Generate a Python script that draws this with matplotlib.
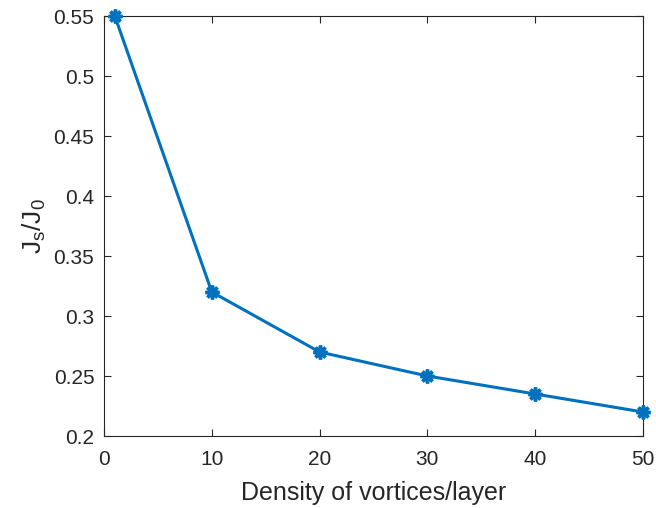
import matplotlib
matplotlib.use("Agg")
import matplotlib.pyplot as plt

# data
density = [1, 10, 20, 30, 40, 50]
js_over_j0 = [0.55, 0.32, 0.27, 0.25, 0.235, 0.22]

xticks = [0, 10, 20, 30, 40, 50]
yticks = [0.2, 0.25, 0.3, 0.35, 0.4, 0.45, 0.5, 0.55]
ytick_labels = ['0.2', '0.25', '0.3', '0.35', '0.4', '0.45', '0.5', '0.55']

plt.rcParams['font.family'] = ['Liberation Sans', 'DejaVu Sans']
plt.rcParams['mathtext.fontset'] = 'custom'
plt.rcParams['mathtext.rm'] = 'Liberation Sans'
plt.rcParams['mathtext.it'] = 'Liberation Sans'
text_color = '#262626'

fig = plt.figure(figsize=(6.56, 5.08), dpi=100)
ax = fig.add_axes([104/656, 1 - 436/508, (643-104)/656, (436-16)/508])

ax.plot(density, js_over_j0, color='#0072BD', linewidth=2.2,
        marker=(8, 2, 0), markersize=10, markeredgewidth=2.5, clip_on=False, zorder=3)

ax.set_xlim(0, 50)
ax.set_ylim(0.2, 0.55)
ax.set_xticks(xticks)
ax.set_xticklabels([str(t) for t in xticks])
ax.set_yticks(yticks)
ax.set_yticklabels(ytick_labels)

ax.tick_params(direction='in', length=5, width=0.8, top=True, right=True,
               labelsize=15, colors=text_color)
ax.tick_params(axis='x', pad=10)
ax.tick_params(axis='y', pad=7)
for s in ax.spines.values():
    s.set_color(text_color)
    s.set_linewidth(0.8)

ax.set_xlabel('Density of vortices/layer', fontsize=18, color=text_color, labelpad=9)
ax.set_ylabel(r'J$_\mathregular{s}$/J$_\mathregular{0}$', fontsize=19, color=text_color, labelpad=4)

fig.savefig('out.png', dpi=100)
